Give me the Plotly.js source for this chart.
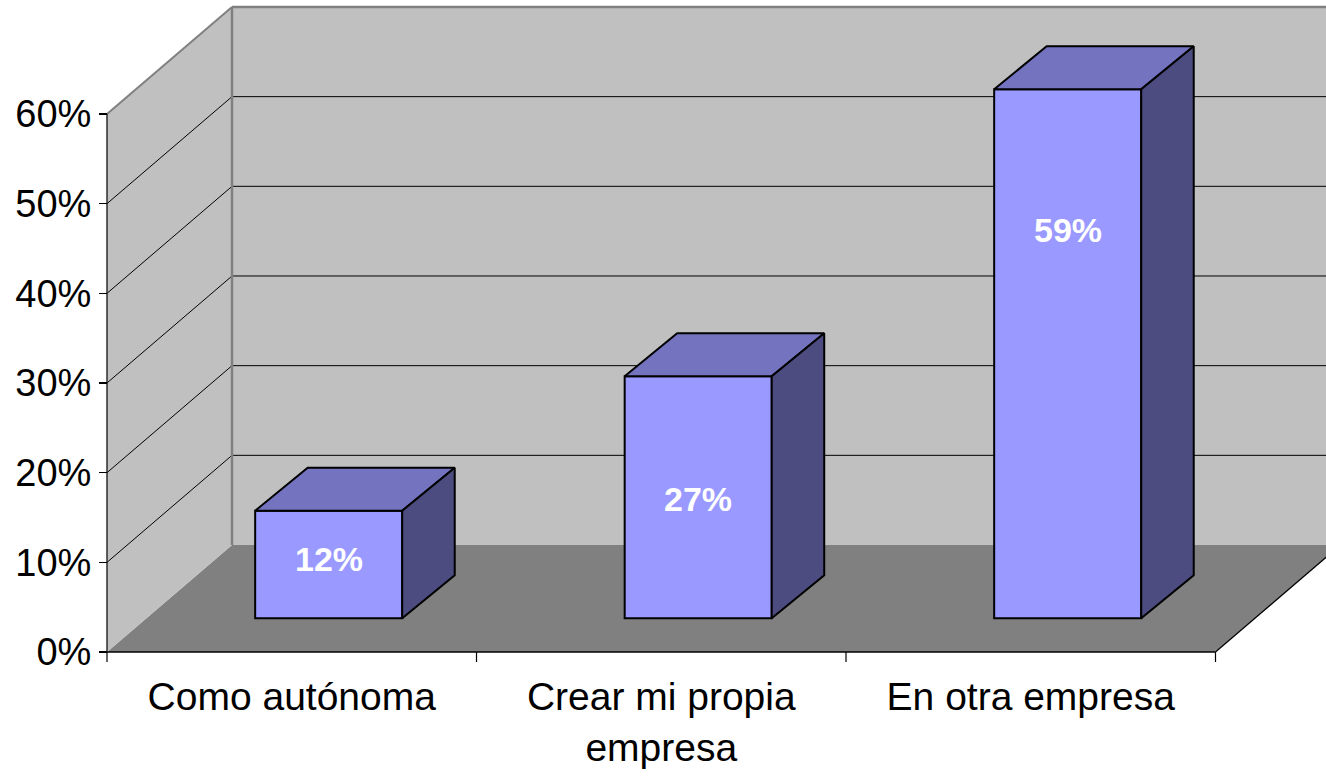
<!DOCTYPE html>
<html><head><meta charset="utf-8">
<script src="https://cdn.plot.ly/plotly-3.0.1.min.js"></script>
<style>html,body{margin:0;padding:0;background:#fff;overflow:hidden;} #chart{width:1326px;height:780px;}</style>
</head><body><div id="chart"></div>
<script>
// ---- data ----
const categories = ['Como autónoma', 'Crear mi propia<br>empresa', 'En otra empresa'];
const values = [12, 27, 59];
const valueLabels = ['12%', '27%', '59%'];
const yTickValues = [0, 10, 20, 30, 40, 50, 60];
const yTickLabels = ['0%', '10%', '20%', '30%', '40%', '50%', '60%'];

// ---- geometry / style ----
const W = 1326, H = 780;
const PX_X = 369.5, PX_Y = 8.967;          // pixels per category / per percent
const ORIGIN_X = 107, ORIGIN_Y = 652;      // pixel of (x=0, y=0%)
const ML = 95, MR = 0, MT = 0, MB = 110;
const plotW = W - ML - MR, plotH = H - MT - MB;
const xRange = [-(ORIGIN_X - ML) / PX_X, (W - MR - ORIGIN_X) / PX_X];
const yRange = [-(MT + plotH - ORIGIN_Y) / PX_Y, (ORIGIN_Y - MT) / PX_Y];
const DX = 125 / PX_X, DY = 107 / PX_Y;    // wall depth
const WALL_TOP = yTickValues[yTickValues.length - 1];
const N = categories.length;
const BAR_OX = 0.1, BAR_OY = 3.76, BAR_W = 0.398;
const BAR_DX = 52.5 / PX_X, BAR_DY = 43 / PX_Y;
const labelFrac = [0.551, 0.493, 0.734];
const FRONT = '#9999FF', TOP = '#7373BF', SIDE = '#4C4C80';
const WALL = '#C0C0C0', FLOOR = '#808080', EDGE = '#808080';
const FONT = '"Liberation Sans", Arial, sans-serif';

function path(pts) {
  return 'M ' + pts.map(p => p[0] + ' ' + p[1]).join(' L ') + ' Z';
}
const shapes = [];
function poly(pts, color) {
  shapes.push({type: 'path', xref: 'x', yref: 'y', layer: 'below', path: path(pts),
    fillcolor: color, line: {width: 0}});
}
function seg(x0, y0, x1, y1, color, width) {
  shapes.push({type: 'line', xref: 'x', yref: 'y', layer: 'below', x0, y0, x1, y1,
    line: {color, width}});
}
// floor, walls
poly([[0, 0], [N, 0], [N + DX, DY], [DX, DY]], FLOOR);
poly([[0, 0], [DX, DY], [DX, DY + WALL_TOP], [0, WALL_TOP]], WALL);
poly([[DX, DY], [N + DX, DY], [N + DX, DY + WALL_TOP], [DX, DY + WALL_TOP]], WALL);
// gridlines
yTickValues.forEach(v => {
  if (v > 0 && v < WALL_TOP) {
    seg(0, v, DX, v + DY, '#000', 1);
    seg(DX, v + DY, N + DX, v + DY, '#000', 1);
  }
});
// wall edges
seg(0, WALL_TOP, DX, WALL_TOP + DY, EDGE, 2);
seg(DX, DY, DX, WALL_TOP + DY, EDGE, 2.5);
seg(DX, WALL_TOP + DY, N + DX, WALL_TOP + DY, EDGE, 2.5);
// floor front + right edge, left axis line
seg(0, 0, N, 0, '#000', 1.5);
seg(N, 0, N + DX, DY, '#000', 1.2);
seg(0, 0, 0, WALL_TOP, '#222', 1.4);
// category boundary ticks
for (let k = 0; k <= N; k++) seg(k, 0, k, -10 / PX_Y, '#000', 1.2);

// bars
const xs = categories.map((c, i) => i + 0.5 + BAR_OX);
const traces = [];
traces.push({
  type: 'bar', x: xs, y: values, base: values.map(() => BAR_OY), width: BAR_W,
  marker: {color: FRONT, line: {color: '#000', width: 2}}, hoverinfo: 'skip'
});
values.forEach((v, i) => {
  const xl = xs[i] - BAR_W / 2, xr = xs[i] + BAR_W / 2;
  const yb = BAR_OY, yt = BAR_OY + v;
  traces.push({type: 'scatter', mode: 'lines', fill: 'toself', fillcolor: TOP,
    x: [xl, xr, xr + BAR_DX, xl + BAR_DX, xl], y: [yt, yt, yt + BAR_DY, yt + BAR_DY, yt],
    line: {color: '#000', width: 2}, hoverinfo: 'skip'});
  traces.push({type: 'scatter', mode: 'lines', fill: 'toself', fillcolor: SIDE,
    x: [xr, xr + BAR_DX, xr + BAR_DX, xr, xr], y: [yb, yb + BAR_DY, yt + BAR_DY, yt, yb],
    line: {color: '#000', width: 2}, hoverinfo: 'skip'});
});

const annotations = values.map((v, i) => ({
  x: xs[i], y: BAR_OY + v * labelFrac[i], xref: 'x', yref: 'y', text: valueLabels[i],
  showarrow: false, font: {family: FONT, size: 34, color: '#fff', weight: 'bold'},
  xanchor: 'center', yanchor: 'middle'
}));

const layout = {
  width: W, height: H, margin: {l: ML, r: MR, t: MT, b: MB, pad: 0},
  paper_bgcolor: '#fff', plot_bgcolor: 'rgba(0,0,0,0)', showlegend: false,
  hovermode: false, bargap: 0,
  xaxis: {range: xRange, anchor: 'free', position: (MT + plotH - ORIGIN_Y) / plotH,
    tickvals: categories.map((c, i) => i + 0.5), ticktext: categories,
    ticks: '', ticklabelstandoff: 18, showgrid: false, zeroline: false, showline: false, automargin: false,
    tickfont: {family: FONT, size: 39, color: '#000'}, fixedrange: true},
  yaxis: {range: yRange, anchor: 'free', position: (ORIGIN_X - ML) / plotW, side: 'left',
    tickvals: yTickValues, ticktext: yTickLabels, ticks: 'outside', ticklen: 8,
    tickwidth: 1.3, tickcolor: '#000', showgrid: false, zeroline: false, showline: false,
    automargin: false, tickfont: {family: FONT, size: 38, color: '#000'}, fixedrange: true},
  shapes, annotations
};
Plotly.newPlot('chart', traces, layout, {staticPlot: true, displayModeBar: false});
</script>
</body></html>
